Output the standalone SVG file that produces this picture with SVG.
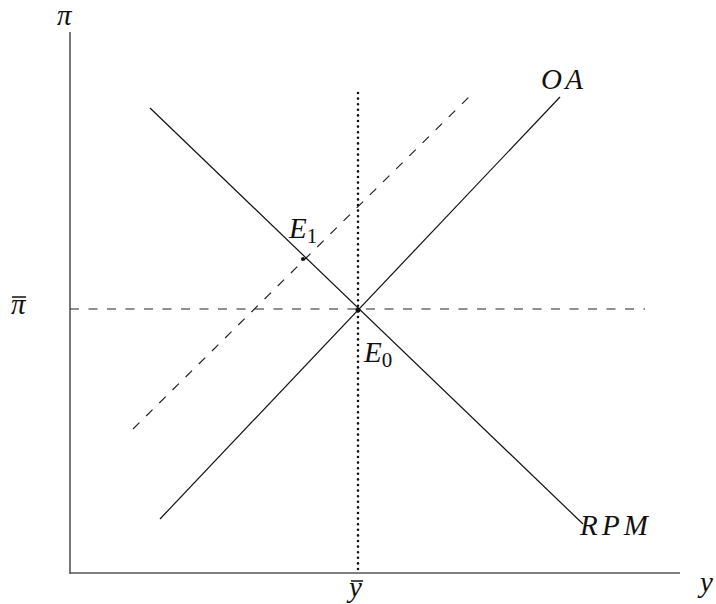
<svg xmlns="http://www.w3.org/2000/svg" width="716" height="604" viewBox="0 0 716 604">
<style>
.ax{stroke:#555;stroke-width:1.6;fill:none}
.ln{stroke:#111;stroke-width:1.2;fill:none}
.dash{stroke:#222;stroke-width:1.2;fill:none;stroke-dasharray:9 9.5}
.dot{stroke:#111;stroke-width:2.6;fill:none;stroke-dasharray:0 5.6;stroke-linecap:round}
.bar{stroke:#111;stroke-width:1.5}
text{font-family:"Liberation Serif","DejaVu Serif",serif;font-style:italic;fill:#111;font-size:29px}
.sub{font-style:normal;font-size:21px}
</style>
<rect width="716" height="604" fill="#fff"/>
<g id="connectors">
<line class="ax" x1="70" y1="32" x2="70" y2="574"/>
<line class="ax" x1="70" y1="573" x2="680" y2="573"/>
<line class="dash" x1="70" y1="309" x2="645" y2="309"/>
<line class="dot" x1="358" y1="93" x2="358" y2="572"/>
<line class="dash" x1="133" y1="429" x2="472" y2="94"/>
<line class="ln" x1="150" y1="108" x2="583" y2="524"/>
<line class="ln" x1="160" y1="519" x2="560" y2="97"/>
</g>
<g id="E0"><circle cx="358" cy="310" r="2.5" fill="#111"/><text x="364" y="362">E<tspan class="sub" dy="5">0</tspan></text></g>
<g id="E1"><circle cx="303" cy="259" r="2" fill="#111"/><text x="289" y="238">E<tspan class="sub" dy="5">1</tspan></text></g>
<g id="OA"><text x="541" y="89" font-size="28" textLength="42" lengthAdjust="spacing">OA</text></g>
<g id="RPM"><text x="580" y="535" textLength="68" lengthAdjust="spacing">RPM</text></g>
<g id="labels">
<text x="57" y="25" font-size="27">π</text>
<text x="11" y="314" font-size="27">π</text><line class="bar" x1="12" y1="297" x2="26" y2="297"/>
<text x="349" y="597" font-size="27">y</text><line class="bar" x1="351" y1="581" x2="363" y2="581"/>
<text x="700" y="592" font-size="27">y</text>
</g>
</svg>
